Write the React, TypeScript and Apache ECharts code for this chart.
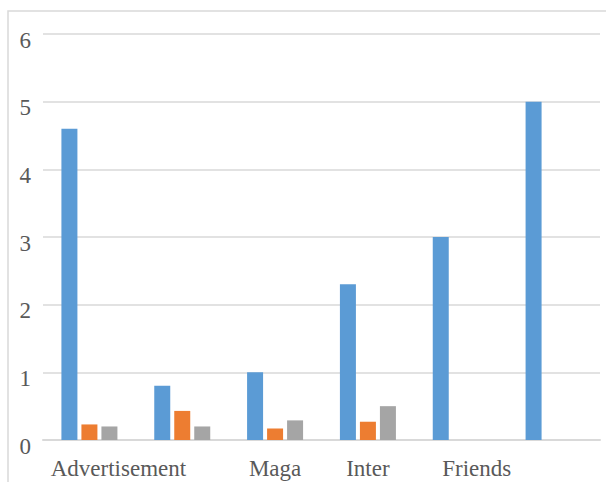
import React, { useEffect, useRef } from "react";
import * as echarts from "echarts";

const categories = ["Advertisement", " ", "Maga", "Inter", "Friends", "  "];
const seriesA = [4.6, 0.8, 1.0, 2.3, 3.0, 5.0];
const seriesB = [0.23, 0.43, 0.17, 0.27, null, null];
const seriesC = [0.2, 0.2, 0.29, 0.5, null, null];
const yTicks = [0, 1, 2, 3, 4, 5, 6];

const FONT = "Liberation Serif";
const TEXT = "#595959";

export default function App() {
  const ref = useRef<HTMLDivElement>(null);
  useEffect(() => {
    if (!ref.current) return;
    const chart = echarts.init(ref.current, null, { renderer: "svg" });
    chart.setOption({
      animation: false,
      textStyle: { fontFamily: FONT },
      graphic: [
        {
          type: "rect",
          shape: { x: 8, y: 11, width: 800, height: 600 },
          style: { fill: "none", stroke: "#d9d9d9", lineWidth: 1.5 },
          silent: true,
        },
      ],
      grid: { left: 43, right: 6, top: 34, bottom: 42, containLabel: false },
      xAxis: {
        type: "category",
        data: categories,
        axisTick: { show: false },
        axisLine: { show: true, lineStyle: { color: "#d9d9d9", width: 2 } },
        axisLabel: {
          interval: 0,
          margin: 17,
          color: TEXT,
          fontFamily: FONT,
          fontSize: 23,
          formatter: (v: string) => {
            if (v === "Advertisement") return "{a|" + v + "}";
            if (v === "Friends") return "{f|" + v + "}";
            return v;
          },
          rich: {
            a: { padding: [0, 0, 0, 58], color: TEXT, fontFamily: FONT, fontSize: 23 },
            f: { padding: [0, 0, 0, 32], color: TEXT, fontFamily: FONT, fontSize: 23 },
          },
        },
      },
      yAxis: {
        type: "value",
        min: yTicks[0],
        max: yTicks[yTicks.length - 1],
        interval: 1,
        axisLine: { show: false },
        axisTick: { show: false },
        splitLine: { lineStyle: { color: "#d9d9d9", width: 1.5 } },
        axisLabel: {
          margin: 12,
          color: TEXT,
          fontFamily: FONT,
          fontSize: 23,
          formatter: "{v|{value}}",
          rich: {
            v: { padding: [12, 0, 0, 0], color: TEXT, fontFamily: FONT, fontSize: 23 },
          },
        },
      },
      series: [
        { type: "bar", data: seriesA, barWidth: 16, barGap: "25%", itemStyle: { color: "#5B9BD5" } },
        { type: "bar", data: seriesB, barWidth: 16, barGap: "25%", itemStyle: { color: "#ED7D31" } },
        { type: "bar", data: seriesC, barWidth: 16, barGap: "25%", itemStyle: { color: "#A5A5A5" } },
      ],
    });
    return () => chart.dispose();
  }, []);
  return (
    <div
      ref={ref}
      style={{ position: "fixed", left: 0, top: 0, width: 606, height: 482, background: "#fff" }}
    />
  );
}
